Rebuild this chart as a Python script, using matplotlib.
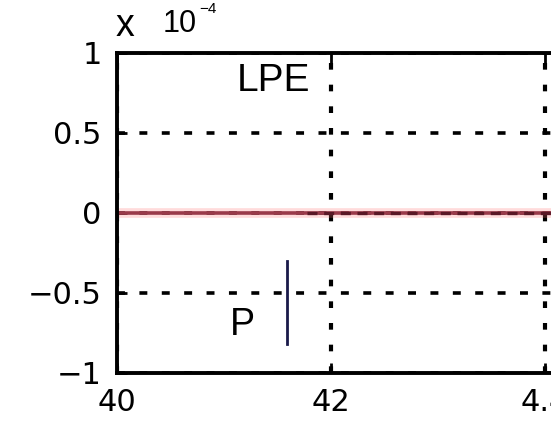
import matplotlib
matplotlib.use('Agg')
import matplotlib.pyplot as plt

# signal values in units of 1e-4
base_x = [4.0, 4.6]
base_y = [0.0, 0.0]
lpe_x = [4.178, 4.6]
lpe_y = [0.0, 0.0]
p_x = [4.159, 4.159]
p_y = [-0.30, -0.82]

xticks = [4.0, 4.2, 4.4]
xticklabels = ['40', '42', '4.4']
yticks = [-1, -0.5, 0, 0.5, 1]
yticklabels = ['\u22121', '\u22120.5', '0', '0.5', '1']

fig = plt.figure(figsize=(5.51, 4.33), dpi=100)
ax = fig.add_axes([117/551, 60/433, 642/551, 320/433])
ax.set_axisbelow(True)

ax.plot(base_x, base_y, color='#ff7070', lw=7, alpha=0.25, solid_capstyle='butt', zorder=3)
ax.plot(base_x, base_y, color='#9a3a4a', lw=2.6, zorder=3)
ax.plot(lpe_x, lpe_y, color='#5a1826', lw=2.4, linestyle=(0, (3, 2)), zorder=4)
ax.plot(p_x, p_y, color='#1a1a4a', lw=2.0, zorder=4)

ax.text(4.146, 0.825, 'LPE', fontsize=28, family='Liberation Sans', ha='center', va='center')
ax.text(4.1168, -0.70, 'P', fontsize=27, family='Liberation Sans', ha='center', va='center')

ax.set_xlim(4.0, 4.6)
ax.set_ylim(-1, 1)
ax.set_xticks(xticks)
ax.set_xticklabels(xticklabels)
ax.set_yticks(yticks)
ax.set_yticklabels(yticklabels)

ax.grid(axis='x', color='black', lw=3.0, linestyle=(0, (1.6, 3.6)))
ax.grid(axis='y', color='black', lw=2.6, linestyle=(0, (2.2, 4.0)))

for s in ax.spines.values():
    s.set_linewidth(2.8)
    s.set_zorder(5)
ax.tick_params(direction='in', length=7, width=2, top=True, right=True,
               labelsize=22, pad=11)
for lab in ax.get_xticklabels() + ax.get_yticklabels():
    lab.set_family('DejaVu Sans')

# MATLAB-style exponent label above the y axis
fig.text(116/551, 1 - 26/433, 'x', fontsize=27, family='Liberation Sans',
         ha='left', va='center')
fig.text(163/551, 1 - 24/433, '10', fontsize=22, family='Liberation Sans',
         ha='left', va='center')
fig.text(199/551, 1 - 9/433, '\u22124', fontsize=11, family='Liberation Sans',
         ha='left', va='center')

fig.savefig('out.png', dpi=100)
